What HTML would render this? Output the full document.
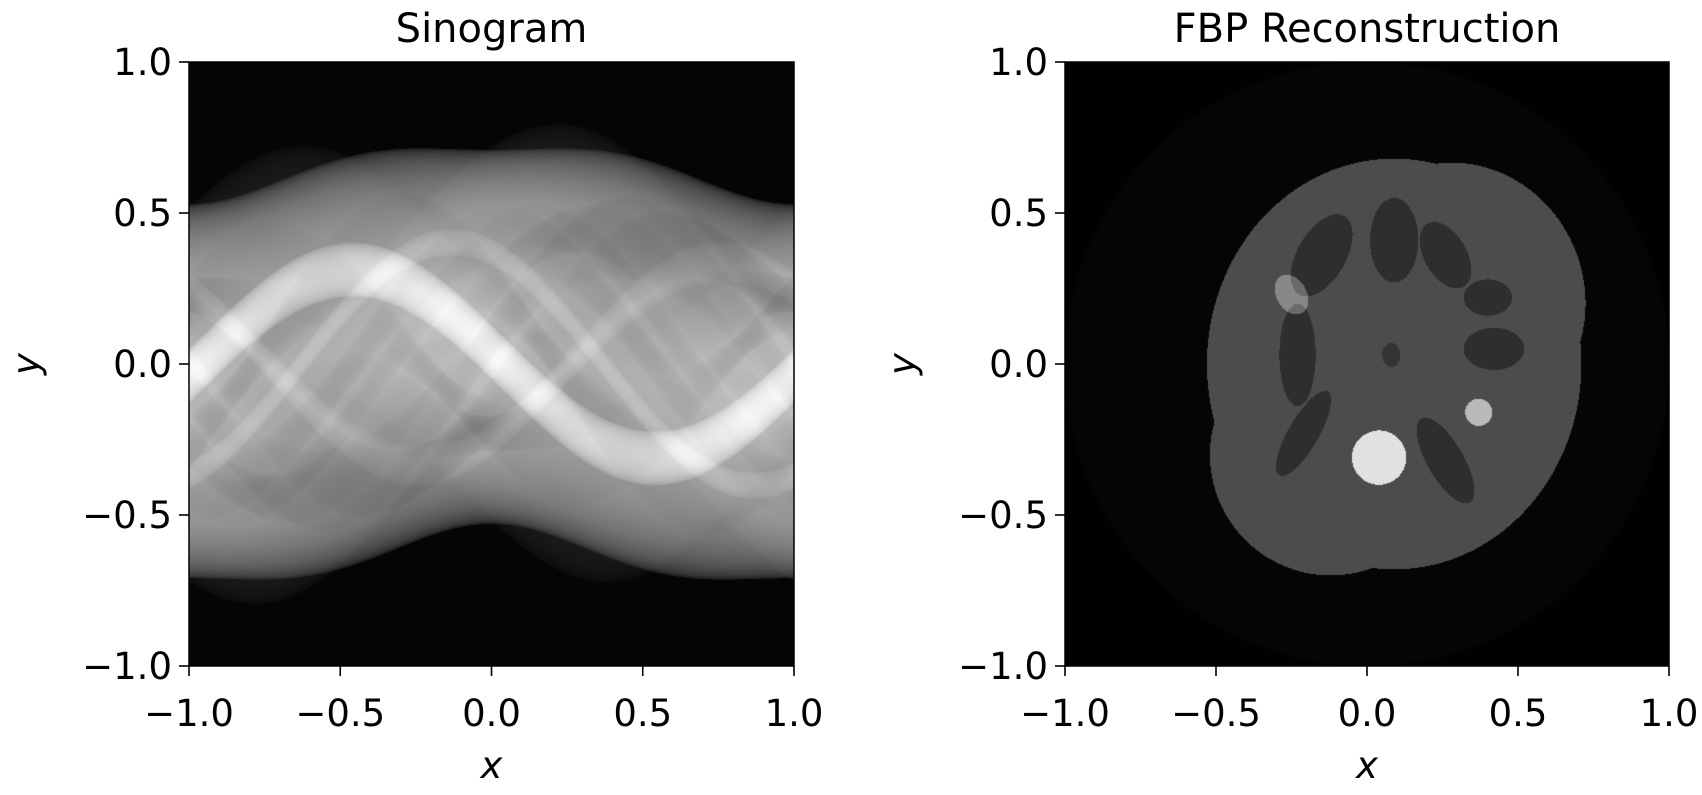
<!DOCTYPE html>
<html><head><meta charset="utf-8">
<style>
html,body{margin:0;padding:0;background:#fff;}
#fig{position:relative;width:1702px;height:795px;font-family:"DejaVu Sans","Liberation Sans",sans-serif;color:#000;}
canvas{position:absolute;}
svg{position:absolute;left:0;top:0;}
</style></head>
<body>
<div id="fig">
<canvas id="c1" width="605" height="604" style="left:189px;top:62px"></canvas>
<canvas id="c2" width="604" height="604" style="left:1065px;top:62px"></canvas>
<svg id="ax" width="1702" height="795"></svg>
</div>
<script>
// tick data
const tickVals = [-1.0, -0.5, 0.0, 0.5, 1.0];
const tickLabels = ["\u22121.0", "\u22120.5", "0.0", "0.5", "1.0"];
const titles = ["Sinogram", "FBP Reconstruction"];
// phantom ellipses: cx, cy, a, b, rotation(deg), density
const ellCx  = [0.09, 0.30, -0.12, -0.15, 0.09, 0.26, 0.40, 0.42, -0.23, -0.21, 0.26, 0.08, 0.04, 0.37, -0.25];
const ellCy  = [0.00, 0.22, -0.30, 0.36, 0.41, 0.36, 0.22, 0.05, 0.03, -0.23, -0.32, 0.03, -0.31, -0.16, 0.23];
const ellA   = [0.62, 0.42, 0.40, 0.08, 0.08, 0.07, 0.08, 0.10, 0.06, 0.05, 0.06, 0.03, 0.09, 0.045, 0.05];
const ellB   = [0.68, 0.45, 0.40, 0.15, 0.14, 0.12, 0.06, 0.07, 0.17, 0.16, 0.16, 0.04, 0.09, 0.045, 0.07];
const ellRot = [0, 20, -20, -30, 0, 30, 0, 0, 0, -30, 30, 0, 0, 20, 30];
const ellRho = [1.0, 0.15, 0.15, -0.6, -0.6, -0.6, -0.6, -0.6, -0.6, -0.6, -0.6, -0.5, 3.5, 2.2, 1.2];

const AX = [{x:189,y:62,w:605,h:604},{x:1065,y:62,w:604,h:604}];
const SVGNS="http://www.w3.org/2000/svg";
const svg=document.getElementById('ax');
function sx(p,v){return p.x+(v+1)/2*p.w;}
function sy(p,v){return p.y+(1-v)/2*p.h;}

// Sinogram
(function(){
  const cv=document.getElementById('c1'),ctx=cv.getContext('2d');
  const W=cv.width,H=cv.height,img=ctx.createImageData(W,H);
  const vals=new Float32Array(W*H);let mx=0;
  const n=ellCx.length;
  for(let i=0;i<W;i++){
    const xv=-1+2*(i+0.5)/W, th=Math.PI*(xv+1)+Math.PI;
    const c=Math.cos(th),s=Math.sin(th);
    for(let j=0;j<H;j++){
      const sv=1-2*(j+0.5)/H;let p=0;
      for(let k=0;k<n;k++){
        const so=sv-(ellCx[k]*c+ellCy[k]*s);
        const al=th-ellRot[k]*Math.PI/180;
        const r2=ellA[k]*ellA[k]*Math.cos(al)**2+ellB[k]*ellB[k]*Math.sin(al)**2;
        if(so*so<r2)p+=2*ellRho[k]*ellA[k]*ellB[k]/r2*Math.sqrt(r2-so*so);
      }
      vals[j*W+i]=p;if(p>mx)mx=p;
    }
  }
  for(let q=0;q<W*H;q++){
    let v=Math.max(0,vals[q]/mx);v=Math.pow(v,0.75);
    const g=Math.round(5+v*245);
    img.data[q*4]=g;img.data[q*4+1]=g;img.data[q*4+2]=g;img.data[q*4+3]=255;
  }
  ctx.putImageData(img,0,0);
})();

// Reconstruction
(function(){
  const cv=document.getElementById('c2'),ctx=cv.getContext('2d');
  const W=cv.width,H=cv.height,img=ctx.createImageData(W,H);
  const n=ellCx.length;
  for(let j=0;j<H;j++)for(let i=0;i<W;i++){
    const x=-1+2*(i+0.5)/W,y=1-2*(j+0.5)/H;let d=0,inBody=false;
    for(let k=0;k<n;k++){
      const r=ellRot[k]*Math.PI/180,dx=x-ellCx[k],dy=y-ellCy[k];
      const u=dx*Math.cos(r)+dy*Math.sin(r),w=-dx*Math.sin(r)+dy*Math.cos(r);
      if((u/ellA[k])**2+(w/ellB[k])**2<=1){ if(k<3) inBody=true; else d+=ellRho[k]; }
    }
    let g;
    if(!inBody) g=(x*x+y*y<1)?5:1;
    else g=Math.max(30,Math.min(225,Math.round(76+d*50)));
    const q=(j*W+i)*4;
    img.data[q]=g;img.data[q+1]=g;img.data[q+2]=g;img.data[q+3]=255;
  }
  ctx.putImageData(img,0,0);
})();

// Axes
AX.forEach((p,ai)=>{
  const fr=document.createElementNS(SVGNS,'rect');
  fr.setAttribute('x',p.x);fr.setAttribute('y',p.y);fr.setAttribute('width',p.w);fr.setAttribute('height',p.h);
  fr.setAttribute('fill','none');fr.setAttribute('stroke','#000');fr.setAttribute('stroke-width','1.5');
  
  
  svg.appendChild(fr);
  tickVals.forEach((v,ti)=>{
    const X=sx(p,v),Y=sy(p,v);
    const t1=document.createElementNS(SVGNS,'line');
    t1.setAttribute('x1',X);t1.setAttribute('x2',X);t1.setAttribute('y1',p.y+p.h);t1.setAttribute('y2',p.y+p.h+10);
    t1.setAttribute('stroke','#000');t1.setAttribute('stroke-width','1.6');
    
    
    svg.appendChild(t1);
    const t2=document.createElementNS(SVGNS,'line');
    t2.setAttribute('x1',p.x-10);t2.setAttribute('x2',p.x);t2.setAttribute('y1',Y);t2.setAttribute('y2',Y);
    t2.setAttribute('stroke','#000');t2.setAttribute('stroke-width','1.6');
    
    
    svg.appendChild(t2);
    const lx=document.createElementNS(SVGNS,'text');
    lx.setAttribute('x',X);lx.setAttribute('y',p.y+p.h+60);lx.setAttribute('text-anchor','middle');
    lx.setAttribute('font-size','37');lx.setAttribute('font-family','DejaVu Sans, Liberation Sans, sans-serif');
    lx.textContent=tickLabels[ti];
    
    
    svg.appendChild(lx);
    const ly=document.createElementNS(SVGNS,'text');
    ly.setAttribute('x',p.x-17);ly.setAttribute('y',Y+13);ly.setAttribute('text-anchor','end');
    ly.setAttribute('font-size','37');ly.setAttribute('font-family','DejaVu Sans, Liberation Sans, sans-serif');
    ly.textContent=tickLabels[ti];
    
    
    svg.appendChild(ly);
  });
  const tt=document.createElementNS(SVGNS,'text');
  tt.setAttribute('x',p.x+p.w/2);tt.setAttribute('y',p.y-20);tt.setAttribute('text-anchor','middle');
  tt.setAttribute('font-size','40');tt.setAttribute('font-family','DejaVu Sans, Liberation Sans, sans-serif');
  tt.textContent=titles[ai];
  
  
  svg.appendChild(tt);
  const xl=document.createElementNS(SVGNS,'text');
  xl.setAttribute('x',p.x+p.w/2);xl.setAttribute('y',p.y+p.h+112);xl.setAttribute('text-anchor','middle');
  xl.setAttribute('font-size','37');xl.setAttribute('font-style','italic');xl.setAttribute('font-family','DejaVu Sans, Liberation Sans, sans-serif');
  xl.textContent='x';
  
  
  svg.appendChild(xl);
  const yl=document.createElementNS(SVGNS,'text');
  const yx=p.x-150, yy=p.y+p.h/2;
  yl.setAttribute('x',yx);yl.setAttribute('y',yy);yl.setAttribute('text-anchor','middle');
  yl.setAttribute('transform','rotate(-90 '+yx+' '+yy+')');
  yl.setAttribute('font-size','37');yl.setAttribute('font-style','italic');yl.setAttribute('font-family','DejaVu Sans, Liberation Sans, sans-serif');
  yl.textContent='y';
  
  
  svg.appendChild(yl);
});
</script>
</body></html>
